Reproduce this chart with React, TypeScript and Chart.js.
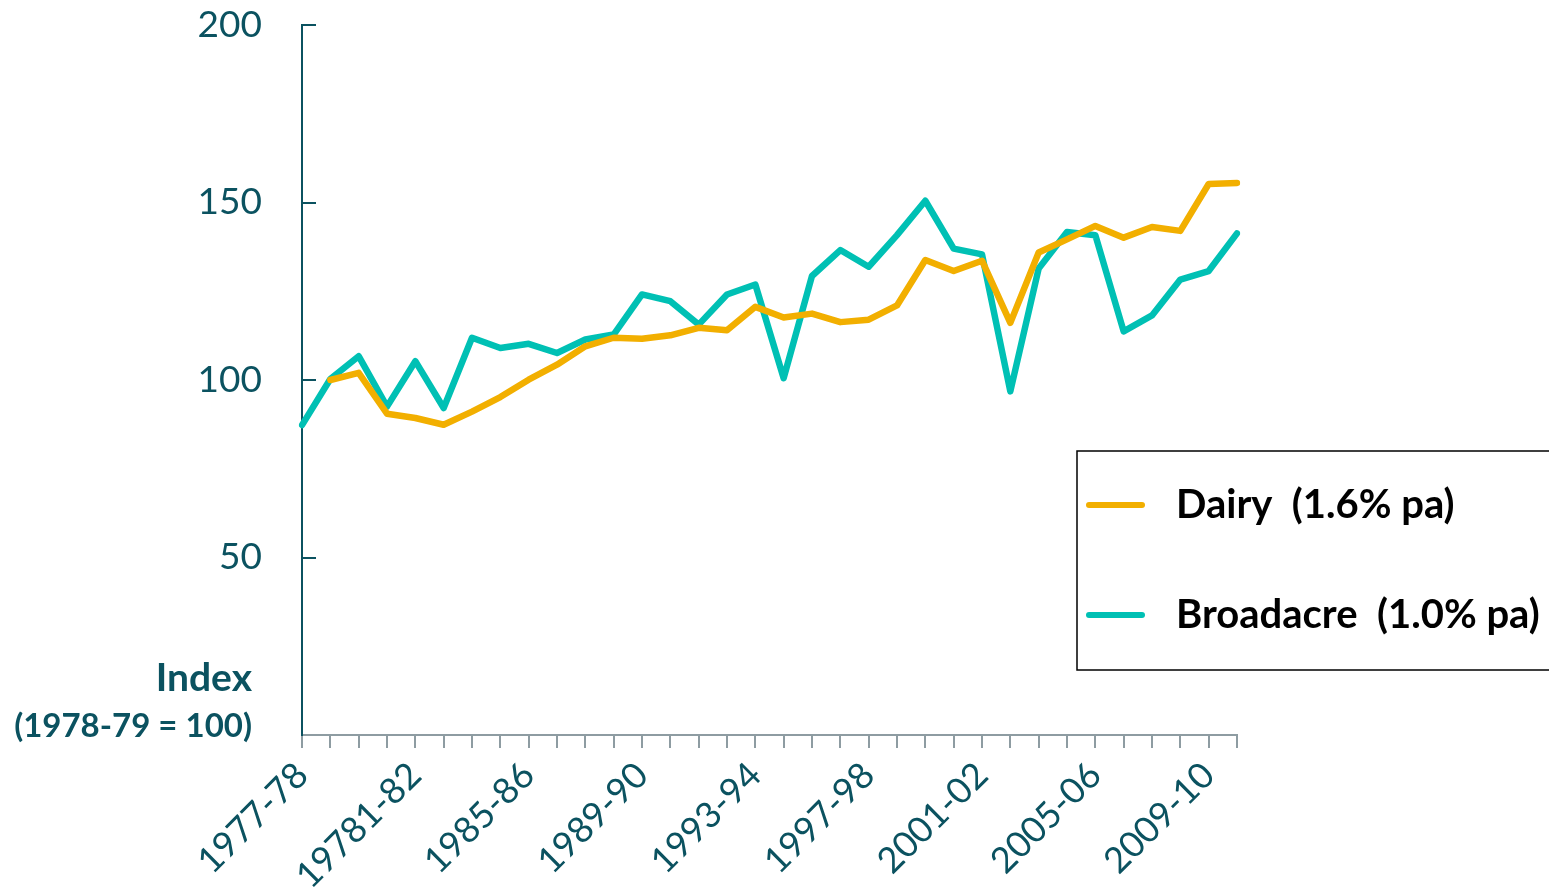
import React, { useEffect, useRef } from "react";
import { Chart, registerables } from "chart.js";

Chart.register(...registerables);

const categories = [
  "1977-78", "1978-79", "1979-80", "1980-81", "1981-82", "1982-83", "1983-84", "1984-85",
  "1985-86", "1986-87", "1987-88", "1988-89", "1989-90", "1990-91", "1991-92", "1992-93",
  "1993-94", "1994-95", "1995-96", "1996-97", "1997-98", "1998-99", "1999-00", "2000-01",
  "2001-02", "2002-03", "2003-04", "2004-05", "2005-06", "2006-07", "2007-08", "2008-09",
  "2009-10", "2010-11",
];

// Tick labels shown on the x axis (as printed in the original, including its typo)
const xTickLabels: Record<number, string> = {
  0: "1977-78",
  4: "19781-82",
  8: "1985-86",
  12: "1989-90",
  16: "1993-94",
  20: "1997-98",
  24: "2001-02",
  28: "2005-06",
  32: "2009-10",
};

const dairy = [
  null, 100, 102, 90.5, 89.3, 87.4, 91.1, 95.2,
  100.1, 104.3, 109.5, 111.9, 111.6, 112.6, 114.7, 114,
  120.6, 117.6, 118.7, 116.3, 117, 121, 133.8, 130.7,
  133.6, 116.1, 135.9, 139.6, 143.4, 140.1, 143.1, 142,
  155.2, 155.5,
];

const broadacre = [
  87.3, 100.3, 106.7, 92.5, 105.3, 92.1, 111.9, 109,
  110.2, 107.6, 111.4, 112.8, 124.1, 122.2, 115.6, 124.1,
  126.9, 100.5, 129.3, 136.6, 131.9, 140.8, 150.5, 137,
  135.4, 96.8, 131.4, 141.7, 140.8, 113.7, 118.2, 128.3,
  130.7, 141.3,
];

const seriesNames = ["Dairy  (1.6% pa)", "Broadacre  (1.0% pa)"];
const yTitle = ["Index", "(1978-79 = 100)"];

const ORANGE = "#F2AF00";
const TEAL = "#00C0B4";
const TEXT = "#0B5260";
const XAXIS = "#8E9CA2";

export default function App() {
  const ref = useRef<HTMLCanvasElement | null>(null);

  useEffect(() => {
    if (!ref.current) return;

    const overlay = {
      id: "overlay",
      afterDraw(chart: any) {
        const { ctx, chartArea, scales } = chart;
        const y = scales.y;
        ctx.save();
        // inward y ticks
        ctx.strokeStyle = TEXT;
        ctx.lineWidth = 2;
        y.ticks.forEach((t: any) => {
          if (t.value === 0) return;
          const py = Math.round(y.getPixelForValue(t.value));
          ctx.beginPath();
          ctx.moveTo(chartArea.left, py);
          ctx.lineTo(chartArea.left + 14, py);
          ctx.stroke();
        });
        // y title
        ctx.fillStyle = TEXT;
        ctx.textAlign = "right";
        ctx.textBaseline = "alphabetic";
        ctx.font = "bold 39px Lato";
        ctx.fillText(yTitle[0], chartArea.left - 50, 691);
        ctx.font = "bold 33px Lato";
        ctx.fillText(yTitle[1], chartArea.left - 50, 737);

        // legend box
        const bx = chartArea.left + 775;
        const by = 451;
        ctx.fillStyle = "#ffffff";
        ctx.fillRect(bx, by, 600, 219);
        ctx.strokeStyle = "#000000";
        ctx.lineWidth = 1.5;
        ctx.strokeRect(bx, by, 600, 219);
        const items = [
          { name: seriesNames[0], color: ORANGE, y: 505 },
          { name: seriesNames[1], color: TEAL, y: 615 },
        ];
        items.forEach((it) => {
          ctx.strokeStyle = it.color;
          ctx.lineWidth = 6;
          ctx.lineCap = "round";
          ctx.beginPath();
          ctx.moveTo(bx + 12, it.y);
          ctx.lineTo(bx + 65, it.y);
          ctx.stroke();
          ctx.fillStyle = "#000000";
          ctx.textAlign = "left";
          ctx.textBaseline = "middle";
          ctx.font = "bold 40px Lato";
          ctx.fillText(it.name, bx + 99, it.y);
        });
        ctx.restore();
      },
    };

    const chart = new Chart(ref.current, {
      type: "line",
      data: {
        labels: categories,
        datasets: [
          {
            label: seriesNames[0],
            data: dairy,
            borderColor: ORANGE,
            backgroundColor: ORANGE,
            borderWidth: 6.5,
            pointRadius: 0,
            borderCapStyle: "round",
            borderJoinStyle: "round",
            tension: 0,
          },
          {
            label: seriesNames[1],
            data: broadacre,
            borderColor: TEAL,
            backgroundColor: TEAL,
            borderWidth: 6.5,
            pointRadius: 0,
            borderCapStyle: "round",
            borderJoinStyle: "round",
            tension: 0,
          },
        ],
      },
      options: {
        animation: false,
        responsive: false,
        maintainAspectRatio: false,
        layout: { padding: { left: 0, top: 25, right: 312, bottom: 0 } },
        plugins: {
          legend: { display: false },
          tooltip: { enabled: false },
          title: { display: false },
        },
        scales: {
          x: {
            type: "category",
            offset: false,
            grid: {
              display: true,
              drawOnChartArea: false,
              drawTicks: true,
              tickLength: 13,
              color: XAXIS,
              lineWidth: 2,
              offset: false,
            },
            border: { display: true, color: XAXIS, width: 2 },
            ticks: {
              autoSkip: false,
              maxRotation: 45,
              minRotation: 45,
              padding: 6,
              color: TEXT,
              font: { family: "Lato", size: 36 },
              callback: (_v: any, i: number) => xTickLabels[i] ?? "",
            },
            afterFit: (s: any) => {
              s.height = 155;
            },
          },
          y: {
            min: 0,
            max: 200,
            grid: { display: false, drawTicks: false },
            border: { display: true, color: TEXT, width: 2 },
            ticks: {
              stepSize: 50,
              padding: 40,
              color: TEXT,
              font: { family: "Lato", size: 37 },
              callback: (v: any) => (v === 0 ? "" : String(v)),
            },
            afterFit: (s: any) => {
              s.width = 302;
              s.paddingTop = 0;
              s.paddingBottom = 0;
            },
          },
        },
      },
      plugins: [overlay],
    });

    return () => chart.destroy();
  }, []);

  return (
    <div style={{ position: "fixed", left: 0, top: 0, width: 1549, height: 890, background: "#fff" }}>
      <canvas ref={ref} width={1549} height={890} style={{ display: "block" }} />
    </div>
  );
}
